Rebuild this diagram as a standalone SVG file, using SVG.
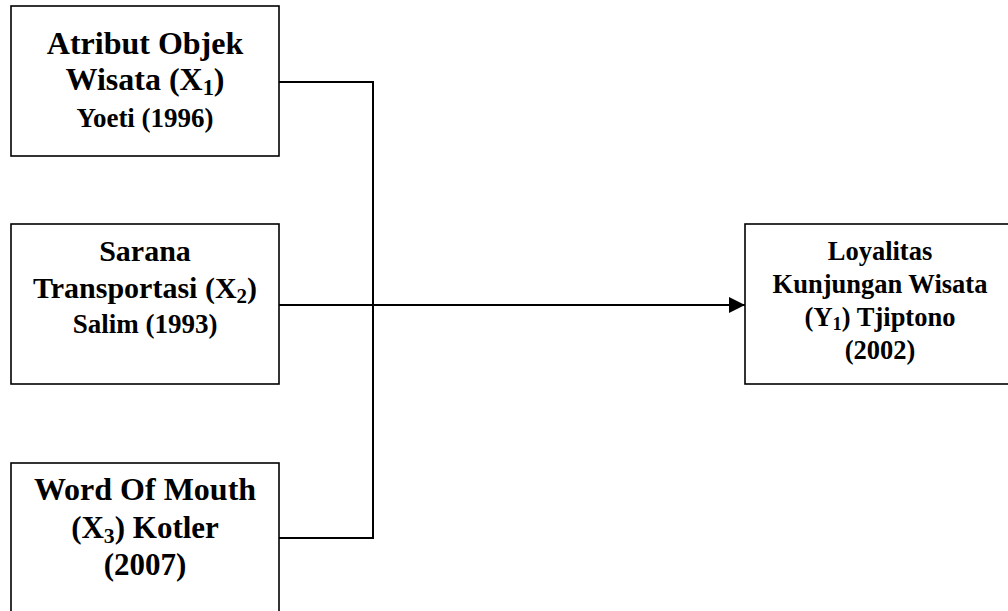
<svg xmlns="http://www.w3.org/2000/svg" width="1008" height="611" viewBox="0 0 1008 611">
<style>
.box{fill:#fff;stroke:#000;stroke-width:1.6}
.t{font-family:"Liberation Serif","Times New Roman",serif;font-weight:bold;fill:#000;text-anchor:middle}
.c{fill:none;stroke:#000;stroke-width:2}
.sub{font-size:70%}
</style>
<defs>
<marker id="ah" markerWidth="16" markerHeight="16" refX="16" refY="8" orient="auto" markerUnits="userSpaceOnUse">
<path d="M0,0 L16,8 L0,16 Z" fill="#000"/>
</marker>
</defs>
<rect width="1008" height="611" fill="#fff"/>
<g id="connectors">
<path class="c" d="M279,82 H373 V538 H279"/>
<path class="c" d="M279,305 H745" marker-end="url(#ah)"/>
</g>
<g id="x1">
<rect class="box" x="11" y="6" width="268" height="150"/>
<text class="t" x="145" y="54" font-size="32">Atribut Objek</text>
<text class="t" x="145" y="90" font-size="32">Wisata (X<tspan class="sub" dy="5">1</tspan><tspan dy="-5">)</tspan></text>
<text class="t" x="145" y="127" font-size="27">Yoeti (1996)</text>
</g>
<g id="x2">
<rect class="box" x="11" y="224" width="268" height="160"/>
<text class="t" x="145" y="261" font-size="30">Sarana</text>
<text class="t" x="145" y="298" font-size="30">Transportasi (X<tspan class="sub" dy="5">2</tspan><tspan dy="-5">)</tspan></text>
<text class="t" x="145" y="333" font-size="27">Salim (1993)</text>
</g>
<g id="x3">
<rect class="box" x="11" y="463" width="268" height="170"/>
<text class="t" x="145" y="500" font-size="32">Word Of Mouth</text>
<text class="t" x="145" y="538" font-size="31">(X<tspan class="sub" dy="5">3</tspan><tspan dy="-5">) Kotler</tspan></text>
<text class="t" x="145" y="575" font-size="31">(2007)</text>
</g>
<g id="y1">
<rect class="box" x="745" y="224" width="275" height="160"/>
<text class="t" x="880" y="260" font-size="26.5">Loyalitas</text>
<text class="t" x="880" y="293" font-size="26.5">Kunjungan Wisata</text>
<text class="t" x="880" y="326" font-size="26.5">(Y<tspan class="sub" dy="4">1</tspan><tspan dy="-4">) Tjiptono</tspan></text>
<text class="t" x="880" y="359" font-size="26.5">(2002)</text>
</g>
</svg>
